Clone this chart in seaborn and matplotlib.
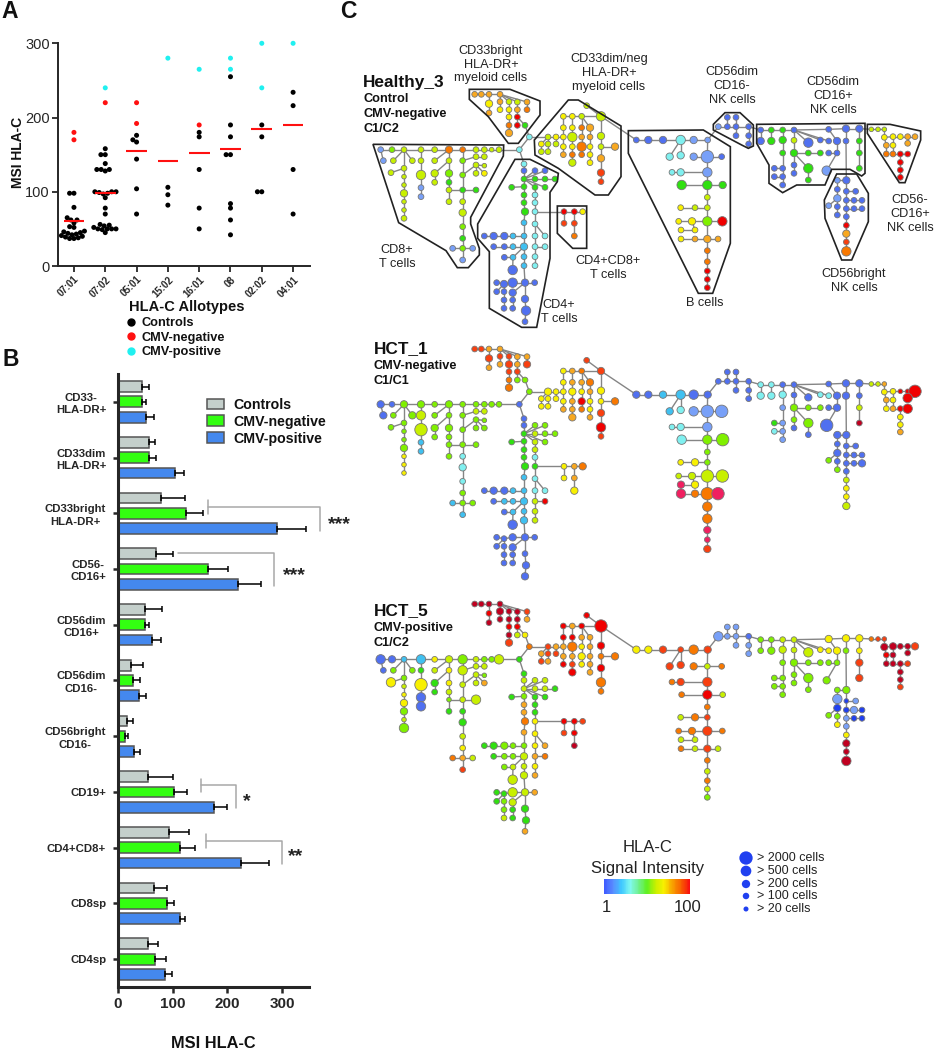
import matplotlib
matplotlib.use('Agg')
import matplotlib.pyplot as plt
from matplotlib.collections import LineCollection
from matplotlib.colors import LinearSegmentedColormap
from matplotlib.lines import Line2D
from matplotlib.patches import Polygon
import numpy as np
import pandas as pd
import seaborn as sns

# Panel A: MSI of each sample per allotype
ALLOTYPES = ['07:01', '07:02', '05:01', '15:02', '16:01', '08', '02:02', '04:01']
A_CONTROLS = [
    [98, 98, 79, 65, 62, 62, 58, 53, 52, 47, 46, 45, 44, 43, 42, 41, 40, 39, 38, 37, 37],
    [158, 150, 150, 138, 130, 130, 130, 128, 100, 100, 100, 99, 98, 97, 92, 78, 70, 56, 55, 54, 52, 50, 50, 50, 50, 49, 45],
    [176, 170, 167, 144, 104, 70],
    [106, 96, 82],
    [180, 174, 130, 78, 50],
    [255, 190, 174, 150, 150, 84, 78, 62, 42],
    [190, 174, 100, 100],
    [234, 216, 130, 70],
]
A_CMV_NEG = [[180, 170], [220], [220, 192], [], [190], [], [], []]
A_CMV_POS = [[], [240], [], [280], [265], [280, 265], [300, 240], [300]]
A_MEANS = [61, 99, 155, 141, 152, 157, 184, 190]

# Panel B: mean and SD per population
POPULATIONS = ['CD33-\nHLA-DR+', 'CD33dim\nHLA-DR+', 'CD33bright\nHLA-DR+', 'CD56-\nCD16+',
               'CD56dim\nCD16+', 'CD56dim\nCD16-', 'CD56bright\nCD16-', 'CD19+',
               'CD4+CD8+', 'CD8sp', 'CD4sp']
B_CONTROLS = [44, 56, 79, 70, 49, 24, 16, 55, 93, 65, 54]
B_CMV_NEG = [43, 56, 124, 165, 49, 28, 13, 102, 113, 90, 68]
B_CMV_POS = [52, 105, 290, 219, 62, 38, 29, 176, 225, 114, 86]
B_CONTROLS_SD = [12, 11, 43, 30, 31, 21, 11, 46, 37, 25, 20]
B_CMV_NEG_SD = [8, 14, 31, 36, 8, 12, 6, 24, 28, 13, 19]
B_CMV_POS_SD = [13, 15, 53, 42, 17, 13, 11, 24, 51, 8, 13]

# Panel C: shared tree layout. Each branch = line start, then its nodes
LEFT_BRANCHES = [
    ((538, 449), [(538, 449)]),
    ((538, 449), [(568, 411)]),
    # CD8+ T cells
    ((538, 449), [(477, 449), (455, 449), (433, 449), (408, 449), (368, 449), (327, 449), (284, 449), (243, 449), (192, 449), (156, 449), (122, 449)]),
    ((122, 449), [(130, 482)]),
    ((192, 449), [(160, 482)]),
    ((192, 449), [(217, 482)]),
    ((192, 449), [(192, 505), (192, 530), (192, 555), (192, 580), (192, 605), (192, 630), (192, 655)]),
    ((192, 505), [(153, 518)]),
    ((243, 449), [(243, 482), (243, 525), (243, 563), (243, 590)]),
    ((327, 449), [(284, 482)]),
    ((327, 449), [(327, 482), (327, 520), (327, 547), (327, 570), (327, 605)]),
    ((327, 482), [(284, 520), (284, 547)]),
    ((327, 570), [(408, 570)]),
    ((368, 449), [(368, 482), (368, 525), (368, 570), (368, 605), (368, 638), (368, 680), (368, 715), (368, 745), (368, 780)]),
    ((368, 482), [(408, 470), (433, 470)]),
    ((368, 525), [(408, 495), (433, 497)]),
    ((408, 495), [(408, 520)]),
    ((408, 495), [(433, 520)]),
    ((368, 745), [(338, 745)]),
    ((368, 745), [(398, 745)]),
    # CD4+ T cells
    ((538, 449), [(552, 492), (552, 512), (552, 537), (552, 560), (552, 585), (552, 608), (555, 635), (552, 668), (552, 708), (552, 740), (552, 770), (552, 797), (555, 848), (555, 897), (558, 932), (555, 965)]),
    ((552, 560), [(515, 562)]),
    ((552, 537), [(585, 512)]),
    ((552, 537), [(615, 512)]),
    ((552, 537), [(585, 537), (615, 537), (645, 537)]),
    ((552, 537), [(615, 562)]),
    ((552, 537), [(585, 562), (585, 585), (585, 608), (585, 635), (585, 672)]),
    ((585, 672), [(585, 708), (585, 740), (585, 770), (585, 797)]),
    ((585, 672), [(615, 708)]),
    ((585, 740), [(615, 740)]),
    ((552, 708), [(519, 708), (493, 708), (461, 708), (433, 708)]),
    ((552, 740), [(519, 740), (493, 740), (461, 740)]),
    ((552, 740), [(519, 772)]),
    ((519, 772), [(493, 772)]),
    ((519, 772), [(518, 810)]),
    ((555, 848), [(584, 848)]),
    ((555, 848), [(518, 848), (492, 852), (470, 848)]),
    ((492, 852), [(470, 875)]),
    ((492, 852), [(492, 875), (492, 900), (492, 925)]),
    ((555, 848), [(518, 878), (518, 900), (518, 925)]),
    # CD4+CD8+ T cells
    ((585, 635), [(672, 635), (703, 635), (728, 635)]),
    ((672, 635), [(672, 670)]),
    ((703, 635), [(703, 670), (703, 708)]),
    # CD33bright myeloid
    ((568, 411), [(555, 376), (532, 351), (532, 329), (532, 306), (480, 283)]),
    ((480, 283), [(447, 283), (424, 283), (404, 283)]),
    ((447, 283), [(447, 311), (447, 339)]),
    ((480, 283), [(480, 305), (480, 329)]),
    ((480, 283), [(507, 305), (507, 329), (507, 351), (507, 376), (507, 399)]),
    ((532, 351), [(532, 376)]),
    ((480, 283), [(561, 306), (561, 329)]),
    # CD33dim myeloid
    ((568, 411), [(624, 411), (648, 411), (670, 411)]),
    ((624, 411), [(604, 432), (604, 455)]),
    ((624, 411), [(624, 432), (624, 455)]),
    ((648, 411), [(648, 432)]),
    ((889, 420), [(783, 349)]),
    ((783, 349), [(740, 317)]),
    ((783, 349), [(783, 408), (783, 440), (783, 475), (783, 518), (783, 545)]),
    ((783, 440), [(825, 440)]),
    ((783, 349), [(725, 349), (697, 349), (670, 349)]),
    ((670, 349), [(670, 383)]),
    ((670, 383), [(670, 440), (670, 464)]),
    ((697, 349), [(697, 383), (697, 411), (697, 440), (697, 464), (697, 488)]),
    ((725, 349), [(725, 383), (725, 411), (725, 440), (725, 464)]),
    ((725, 349), [(750, 383), (750, 411), (750, 440), (750, 464), (750, 488)]),
]
RIGHT_BRANCHES = [
    # B cells
    ((19, 330), [(19, 330), (55, 330), (99, 330), (152, 330), (191, 330), (233, 330)]),
    ((152, 330), [(119, 380)]),
    ((152, 330), [(152, 376)]),
    ((233, 330), [(232, 380), (232, 427), (232, 465), (232, 502), (232, 533), (232, 574), (232, 627)]),
    ((232, 627), [(232, 662), (232, 695), (232, 723), (232, 748), (232, 773)]),
    ((232, 380), [(191, 380)]),
    ((232, 380), [(275, 380)]),
    ((232, 427), [(152, 427), (126, 427)]),
    ((232, 465), [(155, 465)]),
    ((232, 465), [(278, 465)]),
    ((232, 533), [(195, 533), (152, 533)]),
    ((232, 574), [(186, 574), (146, 574)]),
    ((232, 574), [(277, 574)]),
    ((186, 574), [(195, 600), (153, 600)]),
    ((232, 627), [(195, 627), (153, 627)]),
    ((232, 627), [(264, 627)]),
    # CD56dim CD16-
    ((233, 330), [(265, 290), (292, 290), (318, 290), (356, 290)]),
    ((292, 290), [(292, 262)]),
    ((318, 290), [(318, 262)]),
    ((318, 290), [(318, 317)]),
    ((356, 290), [(356, 317), (356, 342)]),
    # CD56dim CD16+
    ((356, 290), [(392, 300), (424, 300), (458, 300), (492, 300), (596, 298), (648, 296), (688, 296)]),
    ((392, 300), [(392, 333)]),
    ((424, 300), [(424, 333)]),
    ((458, 300), [(458, 330), (458, 369), (458, 415), (458, 440), (458, 465)]),
    ((458, 415), [(433, 415)]),
    ((458, 440), [(433, 440)]),
    ((492, 300), [(492, 331), (492, 369), (492, 405), (492, 430)]),
    ((492, 300), [(535, 338)]),
    ((492, 300), [(571, 330)]),
    ((492, 300), [(596, 333)]),
    ((596, 298), [(621, 333), (621, 369), (590, 422)]),
    ((621, 369), [(596, 369)]),
    ((492, 369), [(535, 369), (571, 369)]),
    ((492, 369), [(535, 415), (535, 450)]),
    ((648, 296), [(648, 333), (649, 451)]),
    ((688, 296), [(688, 333), (688, 369), (688, 415)]),
    # CD56bright
    ((649, 451), [(622, 451), (622, 478), (622, 505), (622, 530), (622, 555)]),
    ((622, 505), [(596, 527)]),
    ((649, 451), [(649, 484), (649, 511), (649, 536), (649, 560), (649, 586), (649, 611), (649, 636), (649, 664)]),
    ((649, 484), [(677, 484)]),
    ((649, 511), [(672, 511), (696, 511)]),
    ((649, 536), [(672, 536), (696, 536)]),
    # CD56- CD16+
    ((688, 296), [(724, 298), (744, 298), (763, 298)]),
    ((763, 298), [(763, 322), (789, 320), (811, 320), (833, 320), (855, 320)]),
    ((763, 322), [(769, 346), (769, 372)]),
    ((789, 320), [(789, 346), (789, 372)]),
    ((833, 320), [(833, 340)]),
    ((789, 372), [(811, 372), (833, 372)]),
    ((811, 372), [(811, 397), (811, 420), (811, 442)]),
]
B_TAIL = len(LEFT_BRANCHES) + 4

# one word per branch, one letter/digit per node
H3_SIGNAL = ('c c vvvvoovvvhl l v v vvvvvvv v vvll v vhgvv vv g hhgvvhghl vv vv v y l l '
             'cbgggggsssssbbbb g b b ggg g gcccc cccc c c sbbb sbb s b b b bbb b bbb bbb rry t to '
             'grava aaa ya ay vyyoa r ao '
             'vyy yv vv v v v vvatt a vyy y ya yvyov oaoo aayyy '
             'bbbcll c c llgvvha oorrr l b cc g g vy yy r yy ay a '
             'lbbb b b b bb bggbbbb b g ggbbb b b vgbb b b b bbl b gg gg bb ggg '
             'lblbb l bbbbrato b bb bb vvv yyyaa ao yo a rr rrr')
H3_CELLS = ('2 2 21222322222 2 2 2 2113112 2 2422 2 23222 32 2 222232222 22 21 2 2 2 2 '
            '2222223223223342 2 2 2 222 2 22222 2222 2 2 2332 222 2 2 4 2 432 2 222 322 222 2 22 '
            '22222 222 32 22 22223 2 22 '
            '222 22 22 2 4 2 32332 3 222 2 22 24223 2242 32222 '
            '233432 3 3 5442243 22222 3 2 32 4 3 22 32 4 22 22 2 '
            '2222 2 2 2 22 2222233 3 3 32222 2 2 2322 4 2 2 324 2 22 42 23 222 '
            '22322 2 22222324 2 22 22 111 22222 22 22 2 22 222')
HCT1_SIGNAL = ('b h hhhhhhhhhbb b h h hhhhyyy h vvss h hhhhh hh h hhhccchhs vv hh h h s h '
               'bbgggggsssssbbbb g h h vhh h vvcgc cvvv c r sbbb ssb s b b b bbb b bbb bbb yao y ay '
               'htaaa att ta ta tttoo h at '
               'yyy yy yy y t t yytrt o oay y ya ayaaa ayro oayya '
               'bbssbb s c llhhhvo ooppt l l cc c h yy vv v yp op p '
               'bbbb b b b bb ccbbbbb c c cllll g c bhhb b c c bbb b hh hb bb bvd '
               'bbbbh h bbbbvyyv b bb bb vva yyrrr ay ya r rr yya')
HCT1_CELLS = ('2 2 22222323323 3 2 3 2113111 2 4522 2 23222 32 2 222232222 22 21 2 2 2 2 '
              '2222223223233233 2 2 2 222 2 22222 2222 2 2 2332 222 2 2 4 2 322 2 222 322 223 2 23 '
              '22222 222 32 22 23223 2 23 '
              '322 22 22 2 3 2 32342 3 222 2 22 23223 2232 32222 '
              '333443 3 3 5442255 44323 4 5 32 4 5 32 32 5 33 34 5 '
              '2222 2 2 2 22 2222233 3 3 32222 2 2 2322 3 2 2 335 2 22 42 33 222 '
              '32322 2 22222223 2 22 23 111 22115 22 22 4 24 222')
HCT5_SIGNAL = ('g o vhhvhvyssbb b h h hvyyhvh y gybb v yyvhg gg v vvvggvyat vv vh v a o v '
               'gvvhaaoahvvvvgga g v v vvg g gggyy yaya a o hhgg hhg v h v a vgg g hhv vgg rrt t rd '
               'yrddd ddd rd dd ddrdt v ta '
               'taa at ta t r r roroo o rar r ar roatr ayyy aaaaa '
               'yyttot t t vtrottt ovovh o o to o v ov oo o vv vo v '
               'lllb l l l ll hhvvyyy h h vhhhh h h vhhh v y y yhh h hh hh hh ytt '
               'hlBhy h BBllyddd l lB BB ott ddddt rd dd d dt ddt')
HCT5_CELLS = ('2 2 42224324234 2 2 2 2113314 4 2544 2 22212 32 4 422232222 22 21 2 2 2 2 '
              '2222223223233332 2 2 2 222 2 22222 2222 2 2 2332 222 2 2 4 2 422 2 222 322 222 2 22 '
              '22222 222 22 32 22223 2 22 '
              '222 22 22 2 5 2 32342 3 222 2 22 24223 2232 22222 '
              '333243 3 3 2442243 22222 3 2 32 2 2 32 32 2 22 22 2 '
              '4222 2 2 2 22 2222333 2 3 32222 2 2 2322 4 2 2 323 2 22 42 23 233 '
              '24322 2 12222324 2 32 22 111 33223 22 22 2 22 222')
HCT1_TAIL_DY = [4, 7, 13, 17, 20]
TREE_DY = {'H3': 0, 'HCT1': 764, 'HCT5': 1529}

SIGNAL_COLOURS = {'B': '#2040f0', 'b': '#5070f0', 'l': '#78a0f8', 's': '#40c0f0', 'c': '#80f0f0',
                  'g': '#30e010', 'h': '#80f000', 'v': '#c8f000', 'y': '#f8f000', 'a': '#f8a820',
                  'o': '#f87800', 't': '#f84010', 'r': '#f00000', 'd': '#c00020', 'p': '#f02060'}
CELL_SIZES = {1: 11, 2: 17, 3: 28, 4: 46, 5: 80}

# population outlines on the Healthy_3 tree
LEFT_OUTLINES = [
    [(99, 433), (491, 435), (490, 468), (392, 652), (392, 672), (418, 745), (418, 765), (385, 803), (352, 803), (318, 752), (176, 668)],
    [(525, 478), (570, 478), (655, 520), (652, 545), (630, 577), (630, 775), (590, 982), (545, 982), (448, 925), (448, 755), (413, 715), (413, 672)],
    [(388, 268), (510, 268), (600, 303), (600, 345), (535, 430), (505, 430), (445, 350), (388, 298)],
    [(685, 300), (715, 300), (843, 378), (843, 530), (805, 585), (765, 585), (655, 505), (585, 465), (583, 420)],
    [(652, 618), (740, 618), (740, 745), (698, 745), (652, 700)],
]
RIGHT_OUTLINES = [
    [(-5, 302), (220, 300), (301, 350), (301, 640), (248, 790), (205, 790), (-5, 370)],
    [(250, 283), (285, 248), (330, 248), (370, 285), (370, 348), (355, 355), (335, 345), (250, 300)],
    [(380, 283), (705, 280), (705, 430), (695, 438), (660, 418), (605, 418), (585, 465), (500, 465), (458, 488), (417, 460), (417, 405), (380, 340)],
    [(620, 432), (680, 432), (715, 490), (715, 575), (665, 690), (635, 690), (585, 565), (583, 510)],
    [(712, 283), (780, 283), (872, 303), (872, 330), (825, 458), (808, 458), (712, 310)],
]
COLOURBAR_COLOURS = ['#3f5cff', '#5a8cff', '#40c8ff', '#80f8f0', '#70f090', '#60f020', '#c8f000',
                     '#f8f000', '#f8a000', '#f86000', '#f81010']
SIZE_LEGEND = ['> 2000 cells', '> 500 cells', '> 200 cells', '> 100 cells', '> 20 cells']
SIZE_LEGEND_CELLS = [5, 4, 3, 2, 1]

GROUPS = ['Controls', 'CMV-negative', 'CMV-positive']
W, H = 934, 1050

sns.set_theme(style='ticks')
plt.rcParams['font.family'] = ['Liberation Sans', 'DejaVu Sans']
plt.rcParams['text.color'] = '#111111'

fig = plt.figure(figsize=(W / 100, H / 100), dpi=100)


def px_axes(left, top, right, bottom):
    return fig.add_axes([left / W, 1 - bottom / H, (right - left) / W, (bottom - top) / H])


def label(x, y, s, **kw):
    kw.setdefault('ha', 'center')
    kw.setdefault('va', 'center')
    fig.text(x / W, 1 - y / H, s, **kw)


# tree drawing goes in one big transparent axes, same units as my zoom readings
ax_c = fig.add_axes([0, 0, 1, 1])
ax_c.set_xlim(-1020, 1782)
ax_c.set_ylim(3150, 0)
ax_c.axis('off')

branches = LEFT_BRANCHES + [((a[0] + 870, a[1] + 90), [(x + 870, y + 90) for x, y in nodes])
                            for a, nodes in RIGHT_BRANCHES]


def draw_tree(signal, cells, dy, tail=None):
    signal = signal.split()
    cells = cells.split()
    assert len(signal) == len(branches) and len(cells) == len(branches), (len(signal), len(cells), len(branches))
    rows, segments = [], []
    for i, (anchor, nodes) in enumerate(branches):
        assert len(signal[i]) == len(nodes) and len(cells[i]) == len(nodes), (i, signal[i], cells[i], nodes)
        prev = (anchor[0], anchor[1] + dy)
        for j, (x, y) in enumerate(nodes):
            extra = tail[j] if tail is not None and i == B_TAIL else 0
            rows.append({'x': x, 'y': y + dy + extra, 'signal': signal[i][j], 'cells': int(cells[i][j])})
            segments.append([prev, (x, y + dy + extra)])
            prev = (x, y + dy + extra)
    ax_c.add_collection(LineCollection(segments, colors='#858585', linewidths=1.0, zorder=1))
    sns.scatterplot(data=pd.DataFrame(rows), x='x', y='y', hue='signal', palette=SIGNAL_COLOURS,
                    size='cells', sizes=CELL_SIZES, edgecolor='#777777', linewidth=0.6,
                    legend=False, zorder=2, ax=ax_c)


draw_tree(H3_SIGNAL, H3_CELLS, TREE_DY['H3'])
draw_tree(HCT1_SIGNAL, HCT1_CELLS, TREE_DY['HCT1'], tail=HCT1_TAIL_DY)
draw_tree(HCT5_SIGNAL, HCT5_CELLS, TREE_DY['HCT5'])

for outline in LEFT_OUTLINES + [[(x + 870, y + 90) for x, y in o] for o in RIGHT_OUTLINES]:
    ax_c.add_patch(Polygon(outline, closed=True, fill=False, edgecolor='#222222', linewidth=1.2, zorder=3))

# size legend dots
legend_df = pd.DataFrame({'x': [(746 - 340) * 3] * 5, 'y': [858 * 3, 871 * 3, 884 * 3, 896 * 3, 909 * 3],
                          'cells': SIZE_LEGEND_CELLS})
sns.scatterplot(data=legend_df, x='x', y='y', size='cells', sizes={1: 13, 2: 22, 3: 36, 4: 59, 5: 92},
                color='#2040f0', edgecolor='none', legend=False, ax=ax_c)
ax_c.set_xlim(-1020, 1782)
ax_c.set_ylim(3150, 0)
for name, y in zip(SIZE_LEGEND, [858, 871, 884, 896, 909]):
    label(757, y, name, ha='left', fontsize=9, color='#222222')

# Panel C text
for x, y, s in [(491, 64.5, 'CD33bright\nHLA-DR+\nmyeloid cells'), (609, 73, 'CD33dim/neg\nHLA-DR+\nmyeloid cells'),
                (732, 86, 'CD56dim\nCD16-\nNK cells'), (833, 96, 'CD56dim\nCD16+\nNK cells'),
                (910, 214, 'CD56-\nCD16+\nNK cells'), (854, 281, 'CD56bright\nNK cells'), (705, 303, 'B cells'),
                (397, 257, 'CD8+\nT cells'), (559, 312, 'CD4+\nT cells'), (608, 268, 'CD4+CD8+\nT cells')]:
    label(x, y, s, fontsize=9.2, linespacing=1.2, color='#222222')

for x, y, head, sub in [(363, 82, 'Healthy_3', ['Control', 'CMV-negative', 'C1/C2']),
                        (374, 349, 'HCT_1', ['CMV-negative', 'C1/C1']),
                        (374, 611, 'HCT_5', ['CMV-positive', 'C1/C2'])]:
    label(x, y, head, ha='left', fontsize=12.4, fontweight='bold')
    for i, s in enumerate(sub):
        label(x, y + 17 + 15 * i, s, ha='left', fontsize=9.2, fontweight='bold')

label(648, 848, 'HLA-C', fontsize=12, color='#222222')
label(648, 868, 'Signal Intensity', fontsize=12, color='#222222')
label(606, 907, '1', fontsize=12, color='#222222')
label(688, 907, '100', fontsize=12, color='#222222')
ax_bar = px_axes(604, 879, 690, 894)
sns.heatmap([list(range(1, 101))], cmap=LinearSegmentedColormap.from_list('hla', COLOURBAR_COLOURS),
            cbar=False, xticklabels=False, yticklabels=False, ax=ax_bar)

# Panel A
rows_a = []
for group, table in zip(GROUPS, [A_CONTROLS, A_CMV_NEG, A_CMV_POS]):
    for allotype, values in zip(ALLOTYPES, table):
        rows_a += [{'allotype': allotype, 'msi': v, 'group': group} for v in values]
df_a = pd.DataFrame(rows_a)

ax_a = px_axes(58.3, 43.3, 310, 266)
point_colours = dict(zip(GROUPS, ['black', '#ff1010', '#20f0f0']))
# swarm laid out with a tight dot size, the original points overlap a bit
sns.swarmplot(data=df_a, x='allotype', y='msi', hue='group', order=ALLOTYPES, hue_order=GROUPS,
              palette=point_colours, size=3.0, legend=False, ax=ax_a)
ax_a.set_xlim(-0.5, 7.54)
ax_a.set_ylim(0, 300)
fig.canvas.draw()
for coll in ax_a.collections:
    coll.__dict__.pop('draw', None)
    coll.set_sizes([13])
    coll.set_clip_on(False)
ax_a.hlines(A_MEANS, np.arange(8) - 0.33, np.arange(8) + 0.33, color='#ff1010', linewidth=1.5, zorder=5)
ax_a.set_yticks([0, 100, 200, 300])
ax_a.tick_params(axis='y', labelsize=10.5, width=1.3, length=4, pad=2)
ax_a.tick_params(axis='x', width=1.3, length=4, pad=2)
ax_a.set_xticks(range(8))
ax_a.set_xticklabels(ALLOTYPES, rotation=45, ha='right', rotation_mode='anchor', fontsize=7, fontweight='bold')
ax_a.set_xlabel('')
ax_a.set_ylabel('')
sns.despine(ax=ax_a)
for side in ['left', 'bottom']:
    ax_a.spines[side].set_linewidth(1.4)
label(18, 152, 'MSI HLA-C', rotation=90, fontsize=10, fontweight='bold')
label(187, 307, 'HLA-C Allotypes', fontsize=10.5, fontweight='bold')
handles = [Line2D([], [], linestyle='', marker='o', markersize=5, color=point_colours[g]) for g in GROUPS]
ax_a.legend(handles, GROUPS, loc='upper left', bbox_to_anchor=(125 / W, 1 - 317 / H), bbox_transform=fig.transFigure,
            frameon=False, borderpad=0, borderaxespad=0, handlelength=1, handletextpad=0.3, labelspacing=0.2,
            prop={'weight': 'bold', 'size': 9.2})

# Panel B
df_b = pd.DataFrame({'population': POPULATIONS * 3,
                     'msi': B_CONTROLS + B_CMV_NEG + B_CMV_POS,
                     'group': [g for g in GROUPS for _ in POPULATIONS]})
ax_b = px_axes(118, 374, 309.4, 987)
sns.barplot(data=df_b, y='population', x='msi', hue='group', orient='h', errorbar=None,
            palette=dict(zip(GROUPS, ['#c4cfcb', '#33ff11', '#4488ee'])), saturation=1, width=0.825, gap=0.3,
            edgecolor='#555555', linewidth=1.1, ax=ax_b)
for bars, sd in zip(ax_b.containers, [B_CONTROLS_SD, B_CMV_NEG_SD, B_CMV_POS_SD]):
    for bar, e in zip(bars, sd):
        y = bar.get_y() + bar.get_height() / 2
        ax_b.errorbar(bar.get_width(), y, xerr=[[0], [e]], color='black', linewidth=1.1, capsize=2.4, capthick=1.1)
ax_b.set_xlim(0, 350)
ax_b.set_ylim(10.5, -0.5)
ax_b.set_xticks([0, 100, 200, 300])
ax_b.set_xlabel('')
ax_b.set_ylabel('')
ax_b.tick_params(axis='x', labelsize=11, width=1.8, length=4, pad=3)
ax_b.tick_params(axis='y', labelsize=8.2, width=1.8, length=3.5, pad=5)
for t in ax_b.get_xticklabels() + ax_b.get_yticklabels():
    t.set_fontweight('bold')
for t in ax_b.get_yticklabels():
    t.set_multialignment('center')
    t.set_linespacing(1.3)
sns.despine(ax=ax_b)
for side in ['left', 'bottom']:
    ax_b.spines[side].set_linewidth(2.2)
sns.move_legend(ax_b, 'upper left', bbox_to_anchor=(207 / W, 1 - 398 / H), bbox_transform=fig.transFigure,
                title=None, frameon=False, borderpad=0, borderaxespad=0, handlelength=1.2, handleheight=0.8,
                handletextpad=0.65, labelspacing=0.2, prop={'weight': 'bold', 'size': 10.2})
label(213, 1043, 'MSI HLA-C', fontsize=11.8, fontweight='bold')

for x0, x1, y_top, left_y, right_y, star_x, star_y, stars in [
        (165, 369, 1.88, (1.76, 2.01), 2.31, 404, 2.12, '***'),
        (109, 286, 2.71, None, 3.30, 322, 3.03, '***'),
        (151, 216, 6.87, (6.76, 7.00), 7.28, 235, 7.09, '*'),
        (161, 300, 7.88, (7.76, 8.00), 8.29, 324, 8.08, '**')]:
    ax_b.plot([x0, x1, x1], [y_top, y_top, right_y], color='#a8a8a8', linewidth=1.1, clip_on=False)
    if left_y:
        ax_b.plot([x0, x0], left_y, color='#a8a8a8', linewidth=1.1, clip_on=False)
    ax_b.text(star_x, star_y + 0.08, stars, ha='center', va='center', fontsize=14, fontweight='bold',
              color='#222222', clip_on=False)

# panel letters
label(1, 12, 'A', ha='left', fontsize=16.5, fontweight='bold')
label(2, 359, 'B', ha='left', fontsize=16.5, fontweight='bold')
label(340, 11, 'C', ha='left', fontsize=16.5, fontweight='bold')

fig.savefig('out.png', dpi=100)
